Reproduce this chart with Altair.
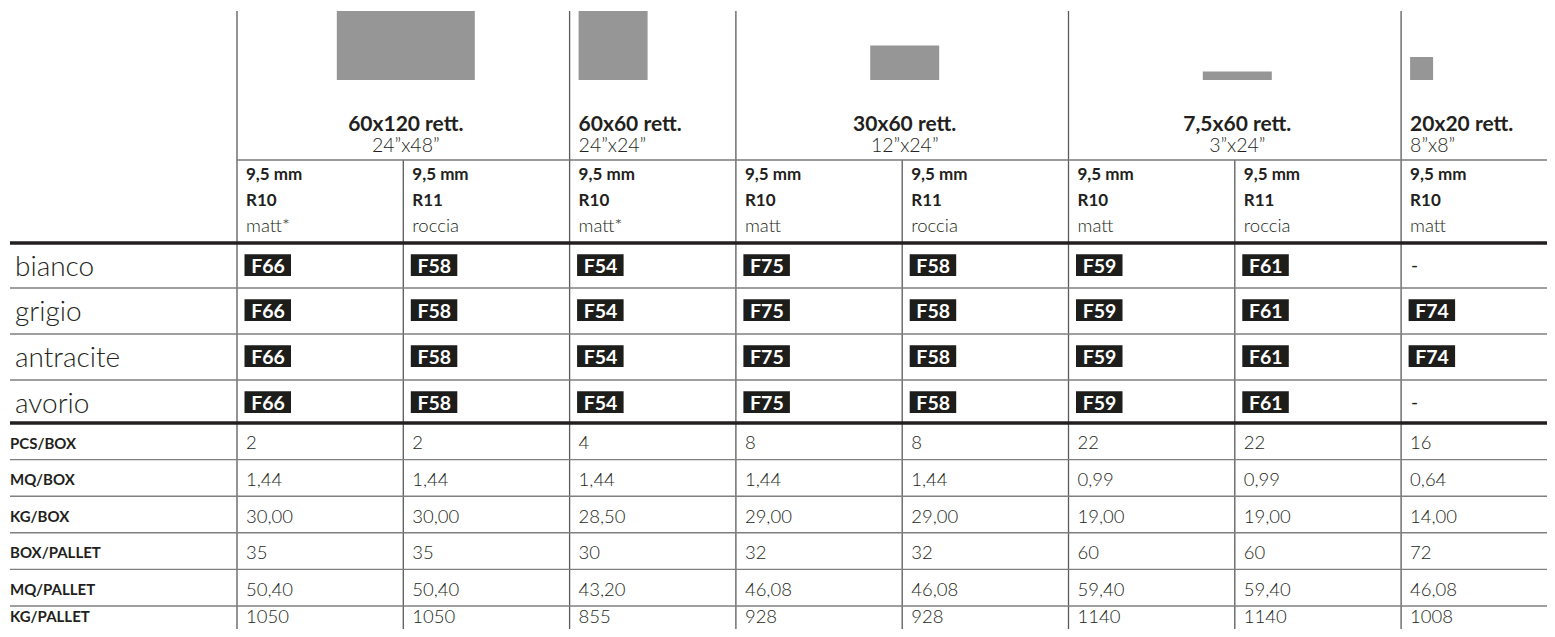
import altair as alt
import pandas as pd

# ---------------- data ----------------
sizes = ["60x120 rett.", "60x60 rett.", "30x60 rett.", "7,5x60 rett.", "20x20 rett."]
sizes_in = ["24”x48”", "24”x24”", "12”x24”", "3”x24”", "8”x8”"]
tile_w_cm = [120, 60, 60, 60, 20]
tile_h_cm = [60, 60, 30, 7.5, 20]
group_span = [2, 1, 2, 2, 1]

thickness = ["9,5 mm"] * 8
slip = ["R10", "R11", "R10", "R10", "R11", "R10", "R11", "R10"]
finish = ["matt*", "roccia", "matt*", "matt", "roccia", "matt", "roccia", "matt"]

colours = ["bianco", "grigio", "antracite", "avorio"]
codes_bianco = ["F66", "F58", "F54", "F75", "F58", "F59", "F61", "-"]
codes_grigio = ["F66", "F58", "F54", "F75", "F58", "F59", "F61", "F74"]
codes_antracite = ["F66", "F58", "F54", "F75", "F58", "F59", "F61", "F74"]
codes_avorio = ["F66", "F58", "F54", "F75", "F58", "F59", "F61", "-"]
codes = [codes_bianco, codes_grigio, codes_antracite, codes_avorio]

props = ["PCS/BOX", "MQ/BOX", "KG/BOX", "BOX/PALLET", "MQ/PALLET", "KG/PALLET"]
pcs_box = ["2", "2", "4", "8", "8", "22", "22", "16"]
mq_box = ["1,44", "1,44", "1,44", "1,44", "1,44", "0,99", "0,99", "0,64"]
kg_box = ["30,00", "30,00", "28,50", "29,00", "29,00", "19,00", "19,00", "14,00"]
box_pallet = ["35", "35", "30", "32", "32", "60", "60", "72"]
mq_pallet = ["50,40", "50,40", "43,20", "46,08", "46,08", "59,40", "59,40", "46,08"]
kg_pallet = ["1050", "1050", "855", "928", "928", "1140", "1140", "1008"]
prop_values = [pcs_box, mq_box, kg_box, box_pallet, mq_pallet, kg_pallet]

# ---------------- layout ----------------
FONT = "Lato"
INK = "#231f20"
X_LEFT, COL_W, LABEL_X, X_END = 237.0, 166.3, 10.0, 1570.0
PX_PER_CM = 1.15
TILE_BOTTOM = 80.0
TOP = 11.0
HEAD_LINE = 160.0
COLOUR_TOPS = [243.0, 288.0, 334.0, 380.0]
COLOUR_END = 423.0
PROP_H = 36.6
PROP_BASE = [25.5, 25.5, 25.5, 25.5, 25.5, 16.0]
BOTTOM = 640.0
N_COLS = len(slip)

def col_left(i):
    return X_LEFT + i * COL_W

xs = alt.Scale(domain=[8, 1547], nice=False, zero=False)
ys = alt.Scale(domain=[8, 629], nice=False, zero=False, reverse=True)

starts = []
s = 0
for n in group_span:
    starts.append(s)
    s += n

tile_rows = []
title_c_b, title_c_l, title_l_b, title_l_l = [], [], [], []
for name, inch, w, h, n, st in zip(sizes, sizes_in, tile_w_cm, tile_h_cm, group_span, starts):
    wpx, hpx = w * PX_PER_CM, h * PX_PER_CM
    if n > 1:
        cx = col_left(st + n / 2) + 2.5
        x1 = cx - wpx / 2
        title_c_b.append(dict(x=cx, y=131, text=name, size=21))
        title_c_l.append(dict(x=cx, y=152, text=inch, size=19.5))
    else:
        x1 = col_left(st) + 9
        title_l_b.append(dict(x=x1, y=131, text=name, size=21))
        title_l_l.append(dict(x=x1, y=152, text=inch, size=19.5))
    tile_rows.append(dict(x=x1, x2=x1 + wpx, y=TILE_BOTTOM - hpx, y2=TILE_BOTTOM, c="#969696"))

badge_rows, badge_text, dash_rows = [], [], []
for r, row_codes in enumerate(codes):
    top = COLOUR_TOPS[r]
    for i, code in enumerate(row_codes):
        cl = col_left(i)
        if code == "-":
            dash_rows.append(dict(x=cl + 10, y=top + 29, text="-", size=19))
        else:
            badge_rows.append(dict(x=cl + 7.5, x2=cl + 54, y=top + 11.3, y2=top + 33, c="#1d1d1b"))
            badge_text.append(dict(x=cl + 31, y=top + 29.7, text=code, size=19.5))

rules = []
group_edges = set(starts + [N_COLS])
for i in range(N_COLS + 1):
    y1 = TOP if i in group_edges else HEAD_LINE
    rules.append(dict(x=col_left(i), x2=col_left(i), y=y1, y2=BOTTOM, c="#5a5a5a", sw=1.3))
rules.append(dict(x=X_LEFT, x2=X_END, y=HEAD_LINE, y2=HEAD_LINE, c="#7a7a7a", sw=1.3))
rules.append(dict(x=LABEL_X, x2=X_END, y=COLOUR_TOPS[0], y2=COLOUR_TOPS[0], c="#231f20", sw=3.5))
for t in COLOUR_TOPS[1:]:
    rules.append(dict(x=LABEL_X, x2=X_END, y=t, y2=t, c="#7f7f7f", sw=1.4))
rules.append(dict(x=LABEL_X, x2=X_END, y=COLOUR_END, y2=COLOUR_END, c="#231f20", sw=3.5))
for k in range(1, len(props)):
    yy = COLOUR_END + k * PROP_H
    rules.append(dict(x=LABEL_X, x2=X_END, y=yy, y2=yy, c="#7f7f7f", sw=1.4))

sub_bold, sub_light = [], []
for i in range(N_COLS):
    cl = col_left(i) + 9
    sub_bold.append(dict(x=cl, y=179.5, text=thickness[i], size=17))
    sub_bold.append(dict(x=cl, y=206, text=slip[i], size=17))
    sub_light.append(dict(x=cl, y=232, text=finish[i], size=18.5))

colour_labels = [dict(x=15, y=t + 32.7, text=c, size=28) for c, t in zip(colours, COLOUR_TOPS)]

prop_labels, prop_vals = [], []
for k, (p, vals) in enumerate(zip(props, prop_values)):
    top = COLOUR_END + k * PROP_H
    prop_labels.append(dict(x=LABEL_X, y=top + PROP_BASE[k], text=p, size=15))
    for i, v in enumerate(vals):
        prop_vals.append(dict(x=col_left(i) + 9, y=top + PROP_BASE[k] + 0.8, text=v, size=18.5))

# ---------------- chart ----------------
X = alt.X("x:Q", scale=xs, axis=None)
Y = alt.Y("y:Q", scale=ys, axis=None)

def rect_layer(rows):
    return alt.Chart(pd.DataFrame(rows)).mark_rect(clip=True).encode(
        x=X, x2="x2:Q", y=Y, y2="y2:Q", color=alt.Color("c:N", scale=None))

def text_layer(rows, weight, align="left", colour=INK):
    return alt.Chart(pd.DataFrame(rows)).mark_text(
        align=align, baseline="alphabetic", font=FONT, fontWeight=weight, clip=True, color=colour
    ).encode(x=X, y=Y, text="text:N", size=alt.Size("size:Q", scale=None))

rule_layer = alt.Chart(pd.DataFrame(rules)).mark_rule(clip=True).encode(
    x=X, x2="x2:Q", y=Y, y2="y2:Q",
    color=alt.Color("c:N", scale=None),
    strokeWidth=alt.StrokeWidth("sw:Q", scale=None))

layers = [
    rect_layer(tile_rows),
    rule_layer,
    rect_layer(badge_rows),
    text_layer(title_c_b, "bold", "center"),
    text_layer(title_c_l, 300, "center"),
    text_layer(title_l_b, "bold"),
    text_layer(title_l_l, 300),
    text_layer(sub_bold, "bold"),
    text_layer(sub_light, 300),
    text_layer(colour_labels, 300),
    text_layer(badge_text, "bold", "center", "#ffffff"),
    text_layer(dash_rows, 400),
    text_layer(prop_labels, "bold"),
    text_layer(prop_vals, 300),
]

chart = alt.layer(*layers).properties(
    width=1539, height=621, padding=0
).configure_view(stroke=None)

chart.save("out.html", embed_options={"renderer": "svg", "actions": False})
